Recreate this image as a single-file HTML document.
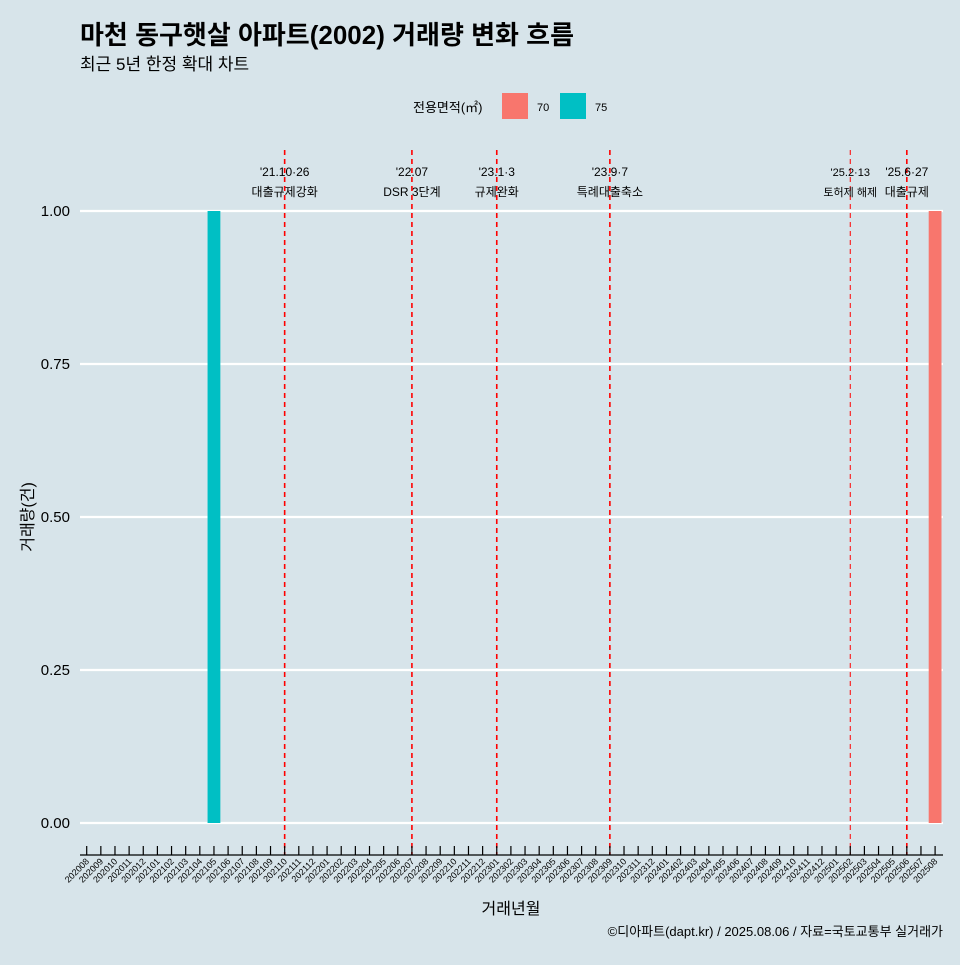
<!DOCTYPE html>
<html><head><meta charset="utf-8"><style>
body{margin:0;background:#d7e4ea;font-family:"Liberation Sans","Noto Sans CJK KR",sans-serif;}
svg text{font-family:"Liberation Sans","Noto Sans CJK KR",sans-serif;}
</style></head><body>
<svg id="chart" width="960" height="960" xmlns="http://www.w3.org/2000/svg">
<rect width="960" height="960" fill="#d7e4ea"/>
<text x="80" y="44" font-size="26" font-weight="bold" fill="#000">마천 동구햇살 아파트(2002) 거래량 변화 흐름</text>
<text x="80" y="70" font-size="17" fill="#000">최근 5년 한정 확대 차트</text>
<g>
<text x="413" y="112" font-size="13">전용면적(㎡)</text>
<rect x="502" y="93" width="26" height="26" fill="#f8766d"/>
<text x="537" y="111" font-size="11">70</text>
<rect x="560" y="93" width="26" height="26" fill="#00bfc4"/>
<text x="595" y="111" font-size="11">75</text>
</g>
<g id="grid"></g><g id="bars"></g><g id="events"></g><g id="axes"></g>
<text transform="translate(33,517) rotate(-90)" text-anchor="middle" font-size="16">거래량(건)</text>
<text x="511" y="914" text-anchor="middle" font-size="16">거래년월</text>
<text x="943" y="936" text-anchor="end" font-size="13">©디아파트(dapt.kr) / 2025.08.06 / 자료=국토교통부 실거래가</text>
</svg>
<script>
const months=[];
for(let y=2020;y<=2025;y++)for(let m=1;m<=12;m++){const k=y*100+m;if(k>=202008&&k<=202508)months.push(String(k));}
const barMonths=["202105","202508"];
const barValues=[1,1];
const barSeries=["75","70"];
const yTicks=[0,0.25,0.5,0.75,1];
const yTickLabels=["0.00","0.25","0.50","0.75","1.00"];
const eventMonths=["202110","202207","202301","202309","202502","202506"];
const eventLine1=["'21.10·26","'22.07","'23.1·3","'23.9·7","'25.2·13","'25.6·27"];
const eventLine2=["대출규제강화","DSR 3단계","규제완화","특례대출축소","토허제 해제","대출규제"];
const colors={"70":"#f8766d","75":"#00bfc4"};
const NS="http://www.w3.org/2000/svg";
const step=14.14,x0=86.7;
const xS=m=>x0+months.indexOf(m)*step;
const yS=v=>823-v*612;
function mk(tag,attrs,parent){const e=document.createElementNS(NS,tag);for(const k in attrs)e.setAttribute(k,attrs[k]);document.getElementById(parent).appendChild(e);return e;}
yTicks.forEach((v,i)=>{
 const l=mk('line',{x1:80,x2:943,y1:yS(v),y2:yS(v),stroke:'#fff','stroke-width':2.2},'grid');
 
 
 const t=mk('text',{x:70,y:yS(v)+5,'text-anchor':'end','font-size':15},'axes');
 t.textContent=yTickLabels[i];
 
 
});
barMonths.forEach((m,i)=>{
 const r=mk('rect',{x:xS(m)-6.4,y:yS(barValues[i]),width:12.8,height:yS(0)-yS(barValues[i]),fill:colors[barSeries[i]]},'bars');
 
 
});
eventMonths.forEach((m,i)=>{
 const x=xS(m);const thin=m==="202502";
 const l=mk('line',{x1:x,x2:x,y1:150,y2:855,stroke:'#ff0000','stroke-width':thin?1:1.6,'stroke-dasharray':'5,4'},'events');
 
 
 const fs=thin?11:12;
 const t1=mk('text',{x:x,y:176,'text-anchor':'middle','font-size':fs},'events');
 t1.textContent=eventLine1[i];
 
 
 const t2=mk('text',{x:x,y:196,'text-anchor':'middle','font-size':fs},'events');
 t2.textContent=eventLine2[i];
 
 
});
const ax=mk('line',{x1:80,x2:943,y1:855,y2:855,stroke:'#000','stroke-width':1.2},'axes');


months.forEach(m=>{
 const x=xS(m);
 const tk=mk('line',{x1:x,x2:x,y1:846,y2:855,stroke:'#000','stroke-width':1.2},'axes');
 
 
 const t=mk('text',{x:x+3,y:862,'text-anchor':'end','font-size':9,transform:`rotate(-45 ${x+3} 862)`},'axes');
 t.textContent=m;
 
 
});
</script>
</body></html>
